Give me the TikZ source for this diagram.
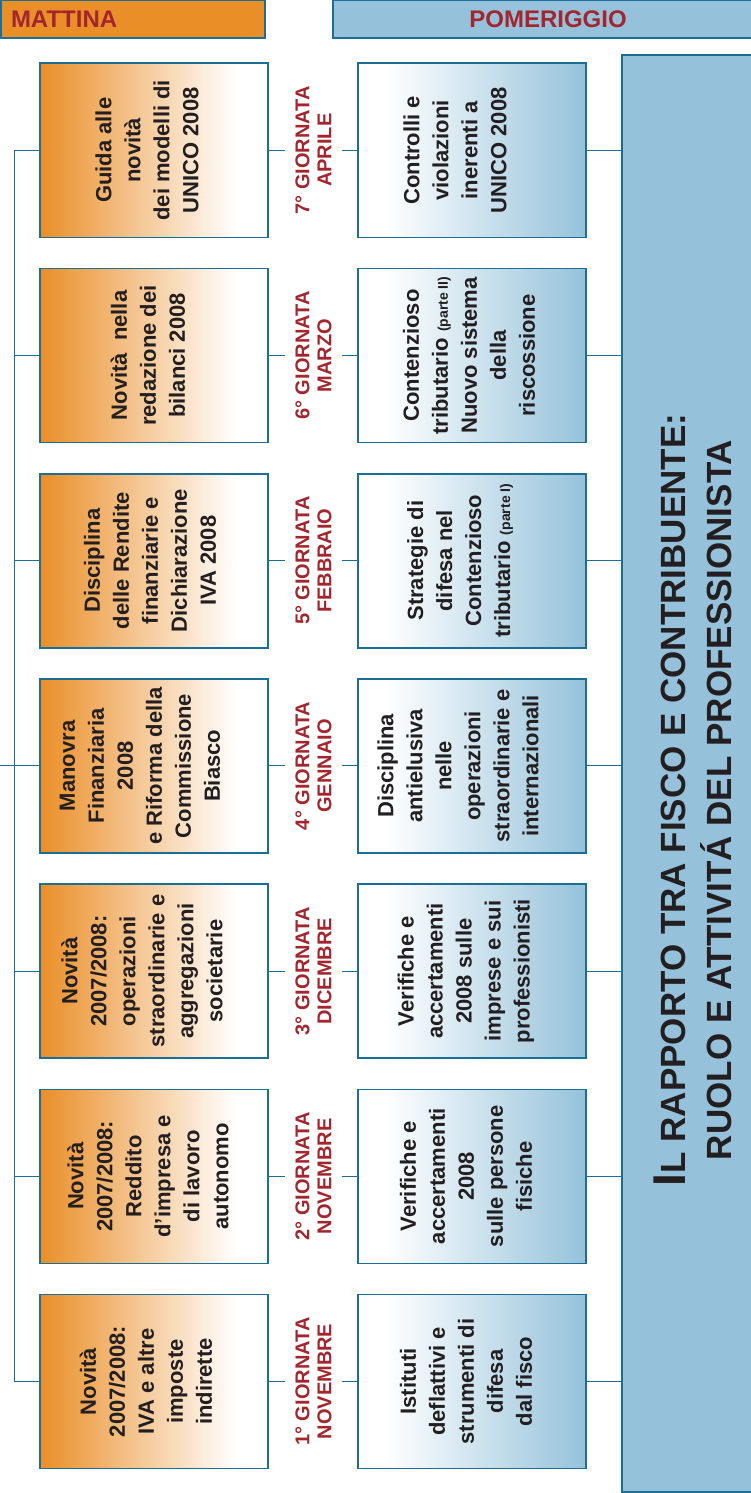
\documentclass[tikz,border=0pt]{standalone}
\usepackage{fontspec}
\setmainfont{Liberation Sans}
\definecolor{frame}{HTML}{1B6E95}
\definecolor{amorange}{HTML}{EA8E28}
\definecolor{pmblue}{HTML}{95C2DA}
\definecolor{dayred}{HTML}{A3262E}
\definecolor{ink}{HTML}{231F20}
\pgfdeclarehorizontalshading{amshade}{100bp}{color(0bp)=(amorange); color(25bp)=(amorange); color(68bp)=(white); color(100bp)=(white)}
\pgfdeclarehorizontalshading{pmshade}{100bp}{color(0bp)=(white); color(31bp)=(white); color(75bp)=(pmblue); color(100bp)=(pmblue)}
\tikzset{
  ambox/.style={draw=frame, line width=1.6pt, shading=amshade, minimum width=228pt, minimum height=174pt, inner sep=0pt},
  pmbox/.style={draw=frame, line width=1.6pt, shading=pmshade, minimum width=228pt, minimum height=174pt, inner sep=0pt},
  boxtext/.style={rotate=90, align=center, text=ink, font=\fontsize{22}{29}\selectfont\bfseries},
  daylabel/.style={rotate=90, align=center, text=dayred, inner sep=0pt, minimum height=57pt, font=\fontsize{20}{22}\selectfont\bfseries},
  hdrbar/.style={draw=frame, line width=1.6pt, minimum height=38pt, inner ysep=0pt, text=dayred, font=\fontsize{24}{24}\selectfont\bfseries},
  link/.style={draw=frame, line width=1pt}
}
\newcommand{\smallpart}[1]{{\fontsize{14}{29}\selectfont #1}}
\begin{document}
\begin{tikzpicture}[x=1pt,y=-1pt]
\useasboundingbox (0,0) rectangle (750,1493);
% headers
\node[hdrbar, fill=amorange, minimum width=264pt, text width=244pt, inner xsep=10pt, align=left] (mattina) at (133,19) {MATTINA};
\node[hdrbar, fill=pmblue, minimum width=430pt] (pomeriggio) at (548,19) {POMERIGGIO};
% title
\node[draw=frame, line width=1.6pt, fill=pmblue, minimum width=138pt, minimum height=1437pt] (title) at (691,773.5) {};
\node[rotate=90, align=center, text=ink, font=\fontsize{35}{46}\selectfont\bfseries] (titletext) at (693,800)
  {{\fontsize{46}{46}\selectfont I}L RAPPORTO TRA FISCO E CONTRIBUENTE:\\RUOLO E ATTIVITÁ DEL PROFESSIONISTA};
% morning boxes
\node[ambox] (am1) at (154,1381.5) {};
\node[boxtext] (am1t) at (146,1381.5) {Novità\\2007/2008:\\IVA e altre\\imposte\\indirette};
\node[ambox] (am2) at (154,1176.3) {};
\node[boxtext] (am2t) at (148,1176.3) {Novità\\2007/2008:\\Reddito\\d’impresa e\\di lavoro\\autonomo};
\node[ambox] (am3) at (154,971.1) {};
\node[boxtext] (am3t) at (142,971.1) {Novità\\2007/2008:\\operazioni\\straordinarie e\\aggregazioni\\societarie};
\node[ambox] (am4) at (154,765.9) {};
\node[boxtext] (am4t) at (140,765.9) {Manovra\\Finanziaria\\2008\\e Riforma della\\Commissione\\Biasco};
\node[ambox] (am5) at (154,560.7) {};
\node[boxtext] (am5t) at (150,560.7) {Disciplina\\delle Rendite\\finanziarie e\\Dichiarazione\\IVA 2008};
\node[ambox] (am6) at (154,355.5) {};
\node[boxtext] (am6t) at (148,355.5) {Novità~ nella\\redazione dei\\bilanci 2008};
\node[ambox] (am7) at (154,150.3) {};
\node[boxtext] (am7t) at (147,150.3) {Guida alle\\novità\\dei modelli di\\UNICO 2008};
% afternoon boxes
\node[pmbox] (pm1) at (472,1381.5) {};
\node[boxtext] (pm1t) at (466,1381.5) {Istituti\\deflattivi e\\strumenti di\\difesa\\dal fisco};
\node[pmbox] (pm2) at (472,1176.3) {};
\node[boxtext] (pm2t) at (466,1176.3) {Verifiche e\\accertamenti\\2008\\sulle persone\\fisiche};
\node[pmbox] (pm3) at (472,971.1) {};
\node[boxtext] (pm3t) at (466,971.1) {Verifiche e\\accertamenti\\2008 sulle\\imprese e sui\\professionisti};
\node[pmbox] (pm4) at (472,765.9) {};
\node[boxtext] (pm4t) at (458,765.9) {Disciplina\\antielusiva\\nelle\\operazioni\\straordinarie e\\internazionali};
\node[pmbox] (pm5) at (472,560.7) {};
\node[boxtext] (pm5t) at (460,560.7) {Strategie di\\difesa nel\\Contenzioso\\tributario \smallpart{(parte I)}};
\node[pmbox] (pm6) at (472,355.5) {};
\node[boxtext] (pm6t) at (469,355.5) {Contenzioso\\tributario \smallpart{(parte II)}\\Nuovo sistema\\della\\riscossione};
\node[pmbox] (pm7) at (472,150.3) {};
\node[boxtext] (pm7t) at (455,150.3) {Controlli e\\violazioni\\inerenti a\\UNICO 2008};
% days
\node[daylabel] (d1) at (313.5,1381.5) {1° GIORNATA\\NOVEMBRE};
\node[daylabel] (d2) at (313.5,1176.3) {2° GIORNATA\\NOVEMBRE};
\node[daylabel] (d3) at (313.5,971.1) {3° GIORNATA\\DICEMBRE};
\node[daylabel] (d4) at (313.5,765.9) {4° GIORNATA\\GENNAIO};
\node[daylabel] (d5) at (313.5,560.7) {5° GIORNATA\\FEBBRAIO};
\node[daylabel] (d6) at (313.5,355.5) {6° GIORNATA\\MARZO};
\node[daylabel] (d7) at (313.5,150.3) {7° GIORNATA\\APRILE};
% left spine
\coordinate (s1) at (14,1381.5);
\coordinate (s2) at (14,1176.3);
\coordinate (s3) at (14,971.1);
\coordinate (s4) at (0,765.9);
\coordinate (s5) at (14,560.7);
\coordinate (s6) at (14,355.5);
\coordinate (s7) at (14,150.3);
\draw[link] (s7) -- (s1);
\draw[link] (s1) -- (am1.west);
\draw[link] (s2) -- (am2.west);
\draw[link] (s3) -- (am3.west);
\draw[link] (s4) -- (am4.west);
\draw[link] (s5) -- (am5.west);
\draw[link] (s6) -- (am6.west);
\draw[link] (s7) -- (am7.west);
% connectors to days and title
\draw[link] (am1.east) -- (d1.north); \draw[link] (d1.south) -- (pm1.west); \draw[link] (pm1.east) -- (title.west |- pm1.east);
\draw[link] (am2.east) -- (d2.north); \draw[link] (d2.south) -- (pm2.west); \draw[link] (pm2.east) -- (title.west |- pm2.east);
\draw[link] (am3.east) -- (d3.north); \draw[link] (d3.south) -- (pm3.west); \draw[link] (pm3.east) -- (title.west |- pm3.east);
\draw[link] (am4.east) -- (d4.north); \draw[link] (d4.south) -- (pm4.west); \draw[link] (pm4.east) -- (title.west |- pm4.east);
\draw[link] (am5.east) -- (d5.north); \draw[link] (d5.south) -- (pm5.west); \draw[link] (pm5.east) -- (title.west |- pm5.east);
\draw[link] (am6.east) -- (d6.north); \draw[link] (d6.south) -- (pm6.west); \draw[link] (pm6.east) -- (title.west |- pm6.east);
\draw[link] (am7.east) -- (d7.north); \draw[link] (d7.south) -- (pm7.west); \draw[link] (pm7.east) -- (title.west |- pm7.east);
\end{tikzpicture}
\end{document}
